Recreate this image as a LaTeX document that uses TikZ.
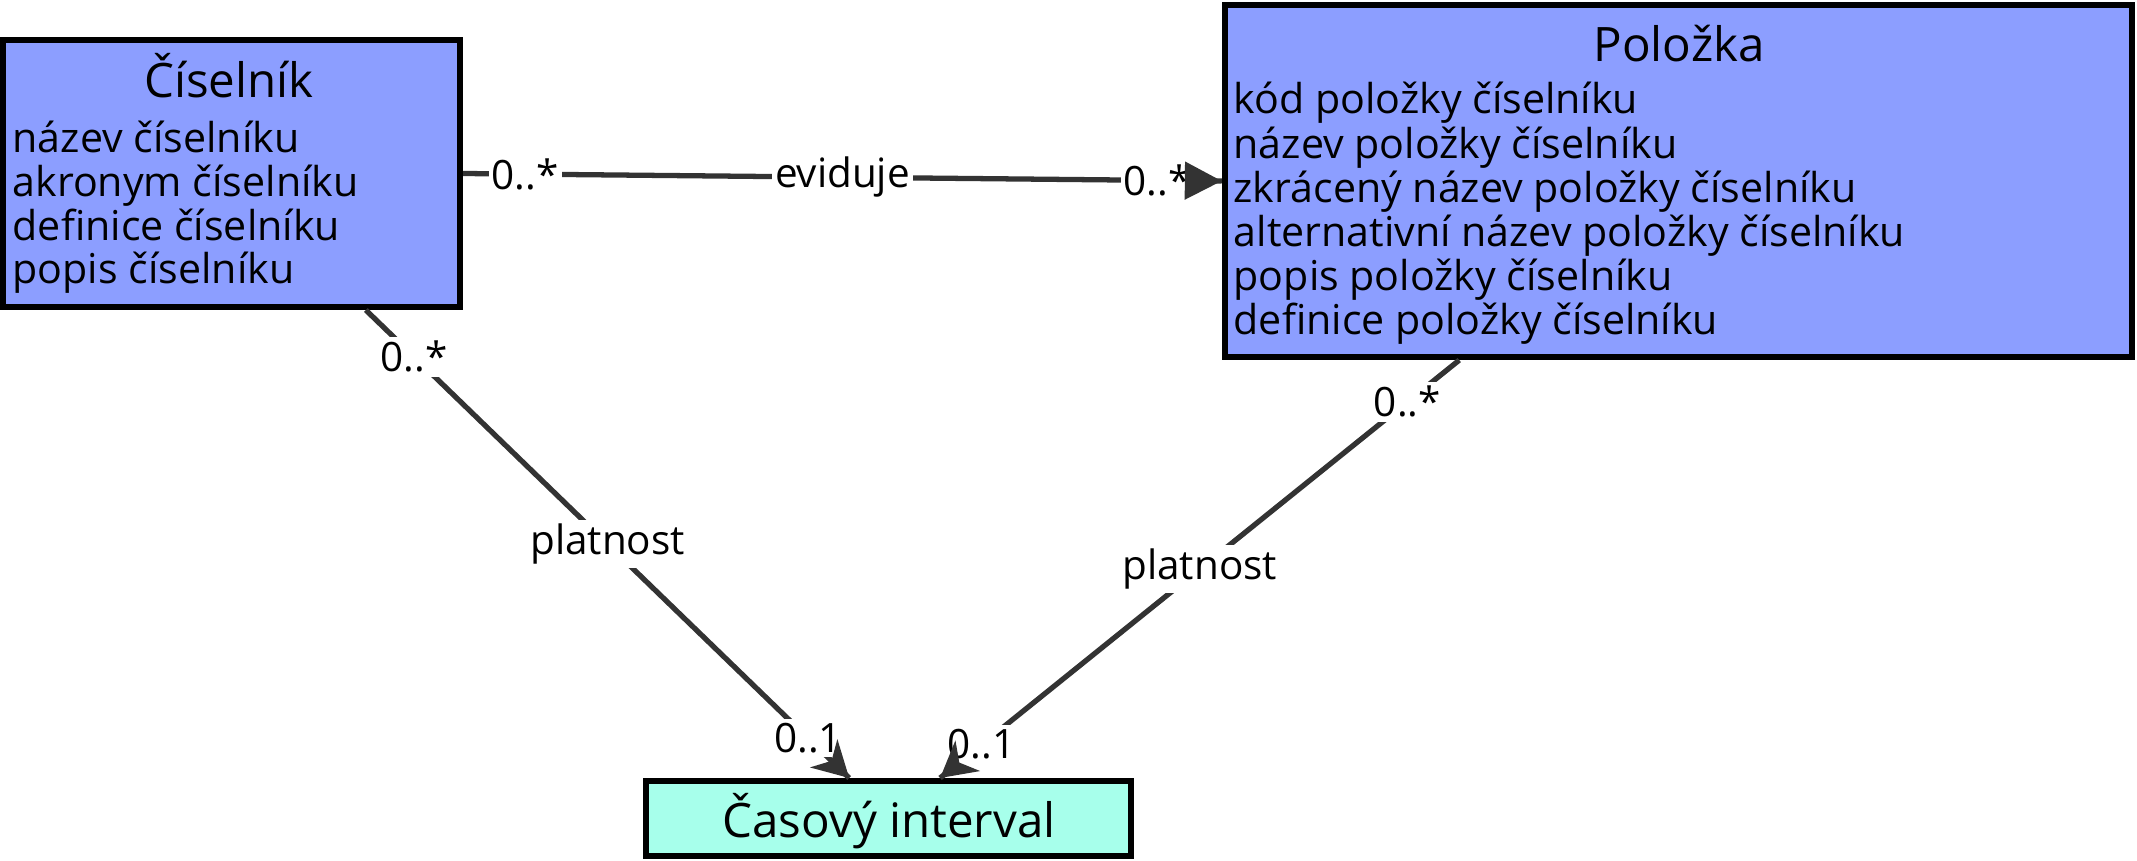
\documentclass[tikz,border=0pt]{standalone}
\usepackage{fontspec}
\setmainfont{Open Sans}
\usetikzlibrary{positioning,calc,arrows.meta}
\definecolor{entblue}{HTML}{8C9EFF}
\definecolor{entaqua}{HTML}{A7FFEB}
\definecolor{linkgray}{HTML}{333333}

\begin{document}
\begin{tikzpicture}[x=0.01cm, y=-0.01cm,
  entity/.style={draw=black, line width=1.7pt, inner sep=0pt},
  titletext/.style={font=\fontsize{13.5}{16}\selectfont, inner sep=0pt, anchor=base},
  attrtext/.style={font=\fontsize{11.7}{14}\selectfont, inner sep=0pt, anchor=base west},
  link/.style={draw=linkgray, line width=1.5pt},
  multlabel/.style={font=\fontsize{11.5}{13}\selectfont, fill=white, inner xsep=0.8pt, inner ysep=1.2pt},
]
\useasboundingbox (0,0) rectangle (2137,861);
% entity boxes (pixel grid of the sheet)
\node[entity, fill=entblue, minimum width=4.57cm, minimum height=2.67cm] (cis) at (231.5,173.5) {};
\node[entity, fill=entblue, minimum width=9.07cm, minimum height=3.52cm] (pol) at (1678.5,181) {};
\node[entity, fill=entaqua, minimum width=4.85cm, minimum height=0.75cm] (cas) at (888.5,818.5) {};

% titles
\node[titletext] (cistitle) at (229,98) {Číselník};
\node[titletext] (poltitle) at (1679,62) {Položka};
\node[titletext] (castitle) at (889,837) {Časový interval};

% attributes
\foreach \t [count=\i] in {název číselníku, akronym číselníku, definice číselníku, popis číselníku} {
  \node[attrtext] (cisattr\i) at (12,{153+43.6*(\i-1)}) {\t};
}
\foreach \t [count=\i] in {kód položky číselníku, název položky číselníku,
  zkrácený název položky číselníku, alternativní název položky číselníku,
  popis položky číselníku, definice položky číselníku} {
  \node[attrtext] (polattr\i) at (1233,{114+44.2*(\i-1)}) {\t};
}

% end points on the box borders
\coordinate (cisout) at ($(cis.south west)!0.79!(cis.south east)$);
\coordinate (polout) at ($(pol.south west)!0.26!(pol.south east)$);
\coordinate (casinA) at ($(cas.north west)!0.42!(cas.north east)$);
\coordinate (casinB) at ($(cas.north west)!0.605!(cas.north east)$);

% associations
\draw[link] (cis.east)
  -- node[multlabel, pos=0.082] (evfrom) {0..*}
     node[multlabel, pos=0.5] (evname) {eviduje}
     node[multlabel, pos=0.915] (evto) {0..*} (pol.west);
\draw[link] (cisout)
  -- node[multlabel, pos=0.1] (plafrom) {0..*}
     node[multlabel, pos=0.5] (planame) {platnost}
     node[multlabel, pos=0.915] (plato) {0..1} (casinA);
\draw[link] (polout)
  -- node[multlabel, pos=0.1] (plbfrom) {0..*}
     node[multlabel, pos=0.5] (plbname) {platnost}
     node[multlabel, pos=0.92] (plbto) {0..1} (casinB);
% tips go over the multiplicity labels
\draw[link, -{Triangle[length=10.5pt, width=10.5pt]}] (evto) -- (pol.west);
\draw[link, -{Stealth[length=10pt, width=11pt, inset=3pt]}] (plato) -- (casinA);
\draw[link, -{Stealth[length=10pt, width=11pt, inset=3pt]}] (plbto) -- (casinB);
\end{tikzpicture}
\end{document}
